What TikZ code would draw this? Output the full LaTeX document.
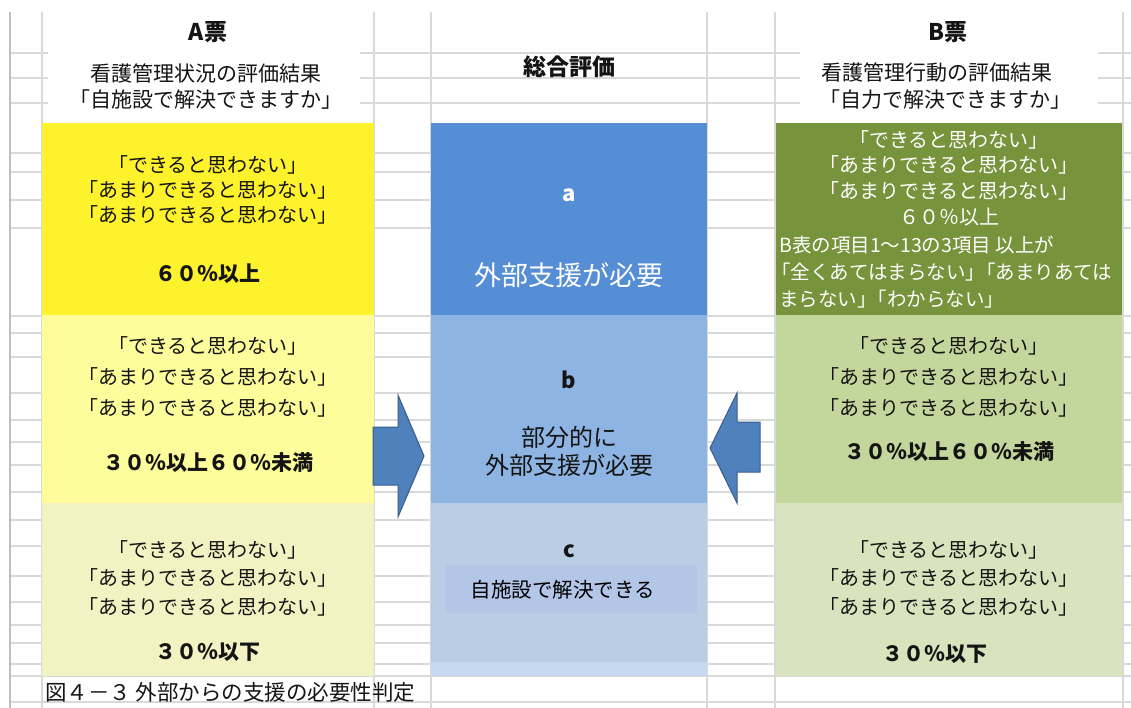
\documentclass[tikz,border=0pt]{standalone}
\usepackage{fontspec}
\setmainfont{Noto Sans CJK JP}
\definecolor{gridc}{HTML}{D9D9D9}
\definecolor{gridd}{HTML}{BFBFBF}
\definecolor{yelA}{HTML}{FEF22C}
\definecolor{yelB}{HTML}{FEFD9C}
\definecolor{yelC}{HTML}{F2F2C2}
\definecolor{bluA}{HTML}{558ED5}
\definecolor{bluB}{HTML}{8EB4E3}
\definecolor{bluC}{HTML}{B9CDE5}
\definecolor{bluCbox}{HTML}{B3C6E7}
\definecolor{bluD}{HTML}{C6D9F1}
\definecolor{grnA}{HTML}{77933C}
\definecolor{grnB}{HTML}{C3D69B}
\definecolor{grnC}{HTML}{D7E4BD}
\definecolor{arrF}{HTML}{4F81BD}
\definecolor{arrD}{HTML}{385D8A}
\definecolor{txtc}{HTML}{141414}
\begin{document}
\begin{tikzpicture}[x=1pt,y=-1pt,
  gridline/.style={draw=gridc, line width=1.1pt},
  txt/.style={inner sep=0pt, align=center, text=txtc, font=\fontsize{20}{25}\selectfont},
  pct/.style={inner sep=0pt, text=txtc, font=\fontsize{21}{25}\selectfont\bfseries},
  hdr/.style={inner sep=0pt, text=txtc, font=\fontsize{21}{25}\selectfont},
  hdrb/.style={inner sep=0pt, text=txtc, font=\fontsize{23}{25}\selectfont\bfseries},
  letter/.style={inner sep=0pt, text=txtc, font=\fontsize{22}{25}\selectfont\bfseries},
  blockarrow/.style={fill=arrF, draw=arrD, line width=1pt, line join=miter}]
\useasboundingbox (0,0) rectangle (1131,708);
\fill[white] (0,0) rectangle (1131,708);
% spreadsheet grid
\foreach \y in {53,78,103,153,172,200,228,316,333,357,393,420,442,465,492,520,546,576,602,625,643,664,676,702}
  \draw[gridline] (10,\y) -- (1131,\y);
\foreach \x in {42,374,431,707,775,1123}
  \draw[gridline] (\x,12) -- (\x,708);
\draw[draw=gridd, line width=1.6pt] (10,12) -- (10,708);
% white header backgrounds
\fill[white] (48,40) rectangle (360,122);
\fill[white] (800,40) rectangle (1098,122);
% column A
\fill[yelA] (42,123) rectangle (374,315);
\fill[yelB] (42,315) rectangle (374,503);
\fill[yelC] (42,503) rectangle (374,676);
% centre column
\fill[bluA] (431,123) rectangle (707,315);
\fill[bluB] (431,315) rectangle (707,503);
\fill[bluC] (431,503) rectangle (707,662);
\fill[bluD] (431,662) rectangle (707,676);
\fill[bluCbox] (446,565) rectangle (697,613);
% column B
\fill[grnA] (776,123) rectangle (1122,315);
\fill[grnB] (776,315) rectangle (1122,503);
\fill[grnC] (776,503) rectangle (1122,676);
% block arrows
\draw[blockarrow] (373,427) -- (398,427) -- (398,395) -- (424,456) -- (398,517) -- (398,485) -- (373,485) -- cycle;
\draw[blockarrow] (760,422) -- (737,422) -- (737,393) -- (710,448) -- (737,503) -- (737,472) -- (760,472) -- cycle;
% headers
\node[hdrb] (hA) at (208,32) {A票};
\node[hdr] (hA1) at (206,73) {看護管理状況の評価結果};
\node[hdr] (hA2) at (206,100) {「自施設で解決できますか」};
\node[hdrb] (hM) at (569,67) {総合評価};
\node[hdrb] (hB) at (948,32) {B票};
\node[hdr] (hB1) at (937,73) {看護管理行動の評価結果};
\node[hdr] (hB2) at (945,100) {「自力で解決できますか」};
% column A texts
\node[txt] (a1t) at (208,190) {「できると思わない」\\「あまりできると思わない」\\「あまりできると思わない」};
\node[pct] (a1p) at (208,274) {６０％以上};
\node[txt, font=\fontsize{20}{31}\selectfont] (a2t) at (208,377) {「できると思わない」\\「あまりできると思わない」\\「あまりできると思わない」};
\node[pct] (a2p) at (208,463) {３０％以上６０％未満};
\node[txt, font=\fontsize{20}{28.5}\selectfont] (a3t) at (208,578) {「できると思わない」\\「あまりできると思わない」\\「あまりできると思わない」};
\node[pct] (a3p) at (208,652) {３０％以下};
% centre texts
\node[letter, text=white] (ma) at (569,195) {a};
\node[inner sep=0pt, text=white, font=\fontsize{27}{30}\selectfont] (mat) at (569,275) {外部支援が必要};
\node[letter] (mb) at (569,380) {b};
\node[txt, font=\fontsize{24}{28}\selectfont] (mbt) at (569,451) {部分的に\\外部支援が必要};
\node[letter] (mc) at (569,551) {c};
\node[inner sep=0pt, text=black, font=\fontsize{20.5}{25}\selectfont] (mct) at (563,590) {自施設で解決できる};
% column B texts
\node[txt, text=white, font=\fontsize{20}{25.7}\selectfont] (b1t) at (949,178) {「できると思わない」\\「あまりできると思わない」\\「あまりできると思わない」\\６０％以上};
\node[txt, text=white, align=left, anchor=west, font=\fontsize{19.5}{27}\selectfont] (b1s) at (779,272) {B表の項目1～13の3項目 以上が\\\kern-0.4em「全くあてはまらない」\kern-0.45em「あまりあては\\まらない」\kern-0.45em「わからない」};
\node[txt, font=\fontsize{20}{31}\selectfont] (b2t) at (949,377) {「できると思わない」\\「あまりできると思わない」\\「あまりできると思わない」};
\node[pct] (b2p) at (949,452) {３０％以上６０％未満};
\node[txt, font=\fontsize{20}{28.5}\selectfont] (b3t) at (949,578) {「できると思わない」\\「あまりできると思わない」\\「あまりできると思わない」};
\node[pct] (b3p) at (935,654) {３０％以下};
% caption
\node[inner sep=0pt, anchor=west, text=txtc, font=\fontsize{21.5}{24}\selectfont] (cap) at (45,692) {図４－３ 外部からの支援の必要性判定};
\end{tikzpicture}
\end{document}
